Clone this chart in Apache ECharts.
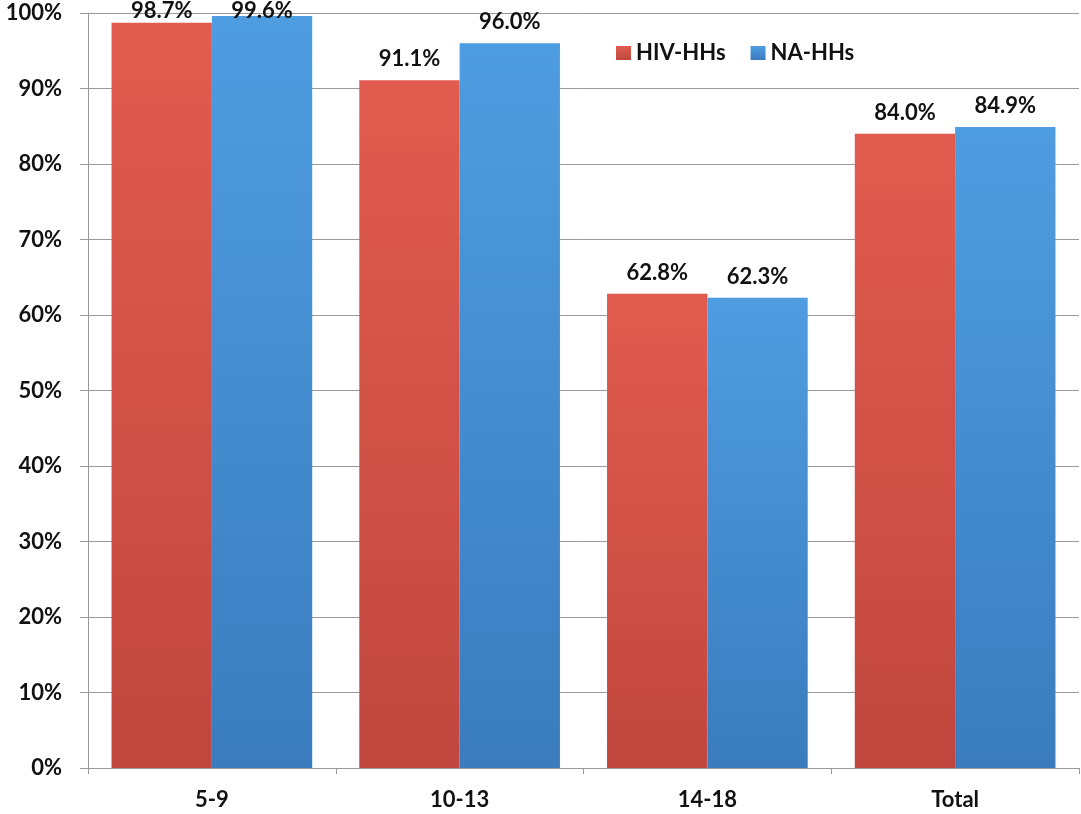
<!DOCTYPE html>
<html>
<head>
<meta charset="utf-8">
<script src="https://cdn.jsdelivr.net/npm/echarts@6/dist/echarts.min.js"></script>
<style>html,body{margin:0;padding:0;background:#fff}#c{width:1081px;height:814px}</style>
</head>
<body>
<div id="c"></div>
<script>
const categories = ['5-9', '10-13', '14-18', 'Total'];
const hivHHs = [98.7, 91.1, 62.8, 84.0];
const naHHs = [99.6, 96.0, 62.3, 84.9];
const seriesNames = ['HIV-HHs', 'NA-HHs'];

const FONT = 'Lato, "Open Sans", sans-serif';
const chart = echarts.init(document.getElementById('c'));
function grad(top, bottom) {
  return new echarts.graphic.LinearGradient(0, 0, 0, 1, [
    {offset: 0, color: top}, {offset: 1, color: bottom}
  ]);
}
const labelCfg = {
  show: true, position: 'top', distance: 10,
  color: '#111', fontFamily: FONT, fontWeight: 'bold', fontSize: 22,
  formatter: p => p.value.toFixed(1) + '%'
};
// labels near the top edge are pushed down so they stay inside the chart
function withLabels(values) {
  return values.map(v => {
    if (v > 97) {
      const d = 1 - (v - 98.7) * 7.55;
      return {value: v, label: {distance: d}};
    }
    return v;
  });
}
chart.setOption({
  animation: false,
  backgroundColor: '#fff',
  grid: {left: 88, right: 2, top: 13, bottom: 46, containLabel: false},
  legend: {
    data: seriesNames,
    left: 611, top: 37,
    itemWidth: 15, itemHeight: 14, itemGap: 25,
    icon: 'rect',
    textStyle: {color: '#111', fontFamily: FONT, fontWeight: 'bold', fontSize: 22}
  },
  xAxis: {
    type: 'category', data: categories,
    axisLine: {lineStyle: {color: '#999', width: 1}},
    axisTick: {show: true, length: 6, lineStyle: {color: '#999'}},
    axisLabel: {color: '#111', fontFamily: FONT, fontWeight: 'bold', fontSize: 22, margin: 21}
  },
  yAxis: {
    type: 'value', min: 0, max: 100, interval: 10,
    axisLine: {show: true, lineStyle: {color: '#999', width: 1}},
    axisTick: {show: true, length: 8, lineStyle: {color: '#999'}},
    splitLine: {show: true, lineStyle: {color: '#999', width: 1}},
    axisLabel: {color: '#111', fontFamily: FONT, fontWeight: 'bold', fontSize: 22, margin: 26,
      formatter: v => v + '%'}
  },
  series: [
    {
      name: seriesNames[0], type: 'bar', data: withLabels(hivHHs),
      barGap: '0%', barCategoryGap: '19%',
      itemStyle: {color: grad('#E25B4F', '#C0473E')},
      label: labelCfg
    },
    {
      name: seriesNames[1], type: 'bar', data: withLabels(naHHs),
      itemStyle: {color: grad('#4E9DE0', '#3A7CBE')},
      label: labelCfg
    }
  ]
});
</script>
</body>
</html>
